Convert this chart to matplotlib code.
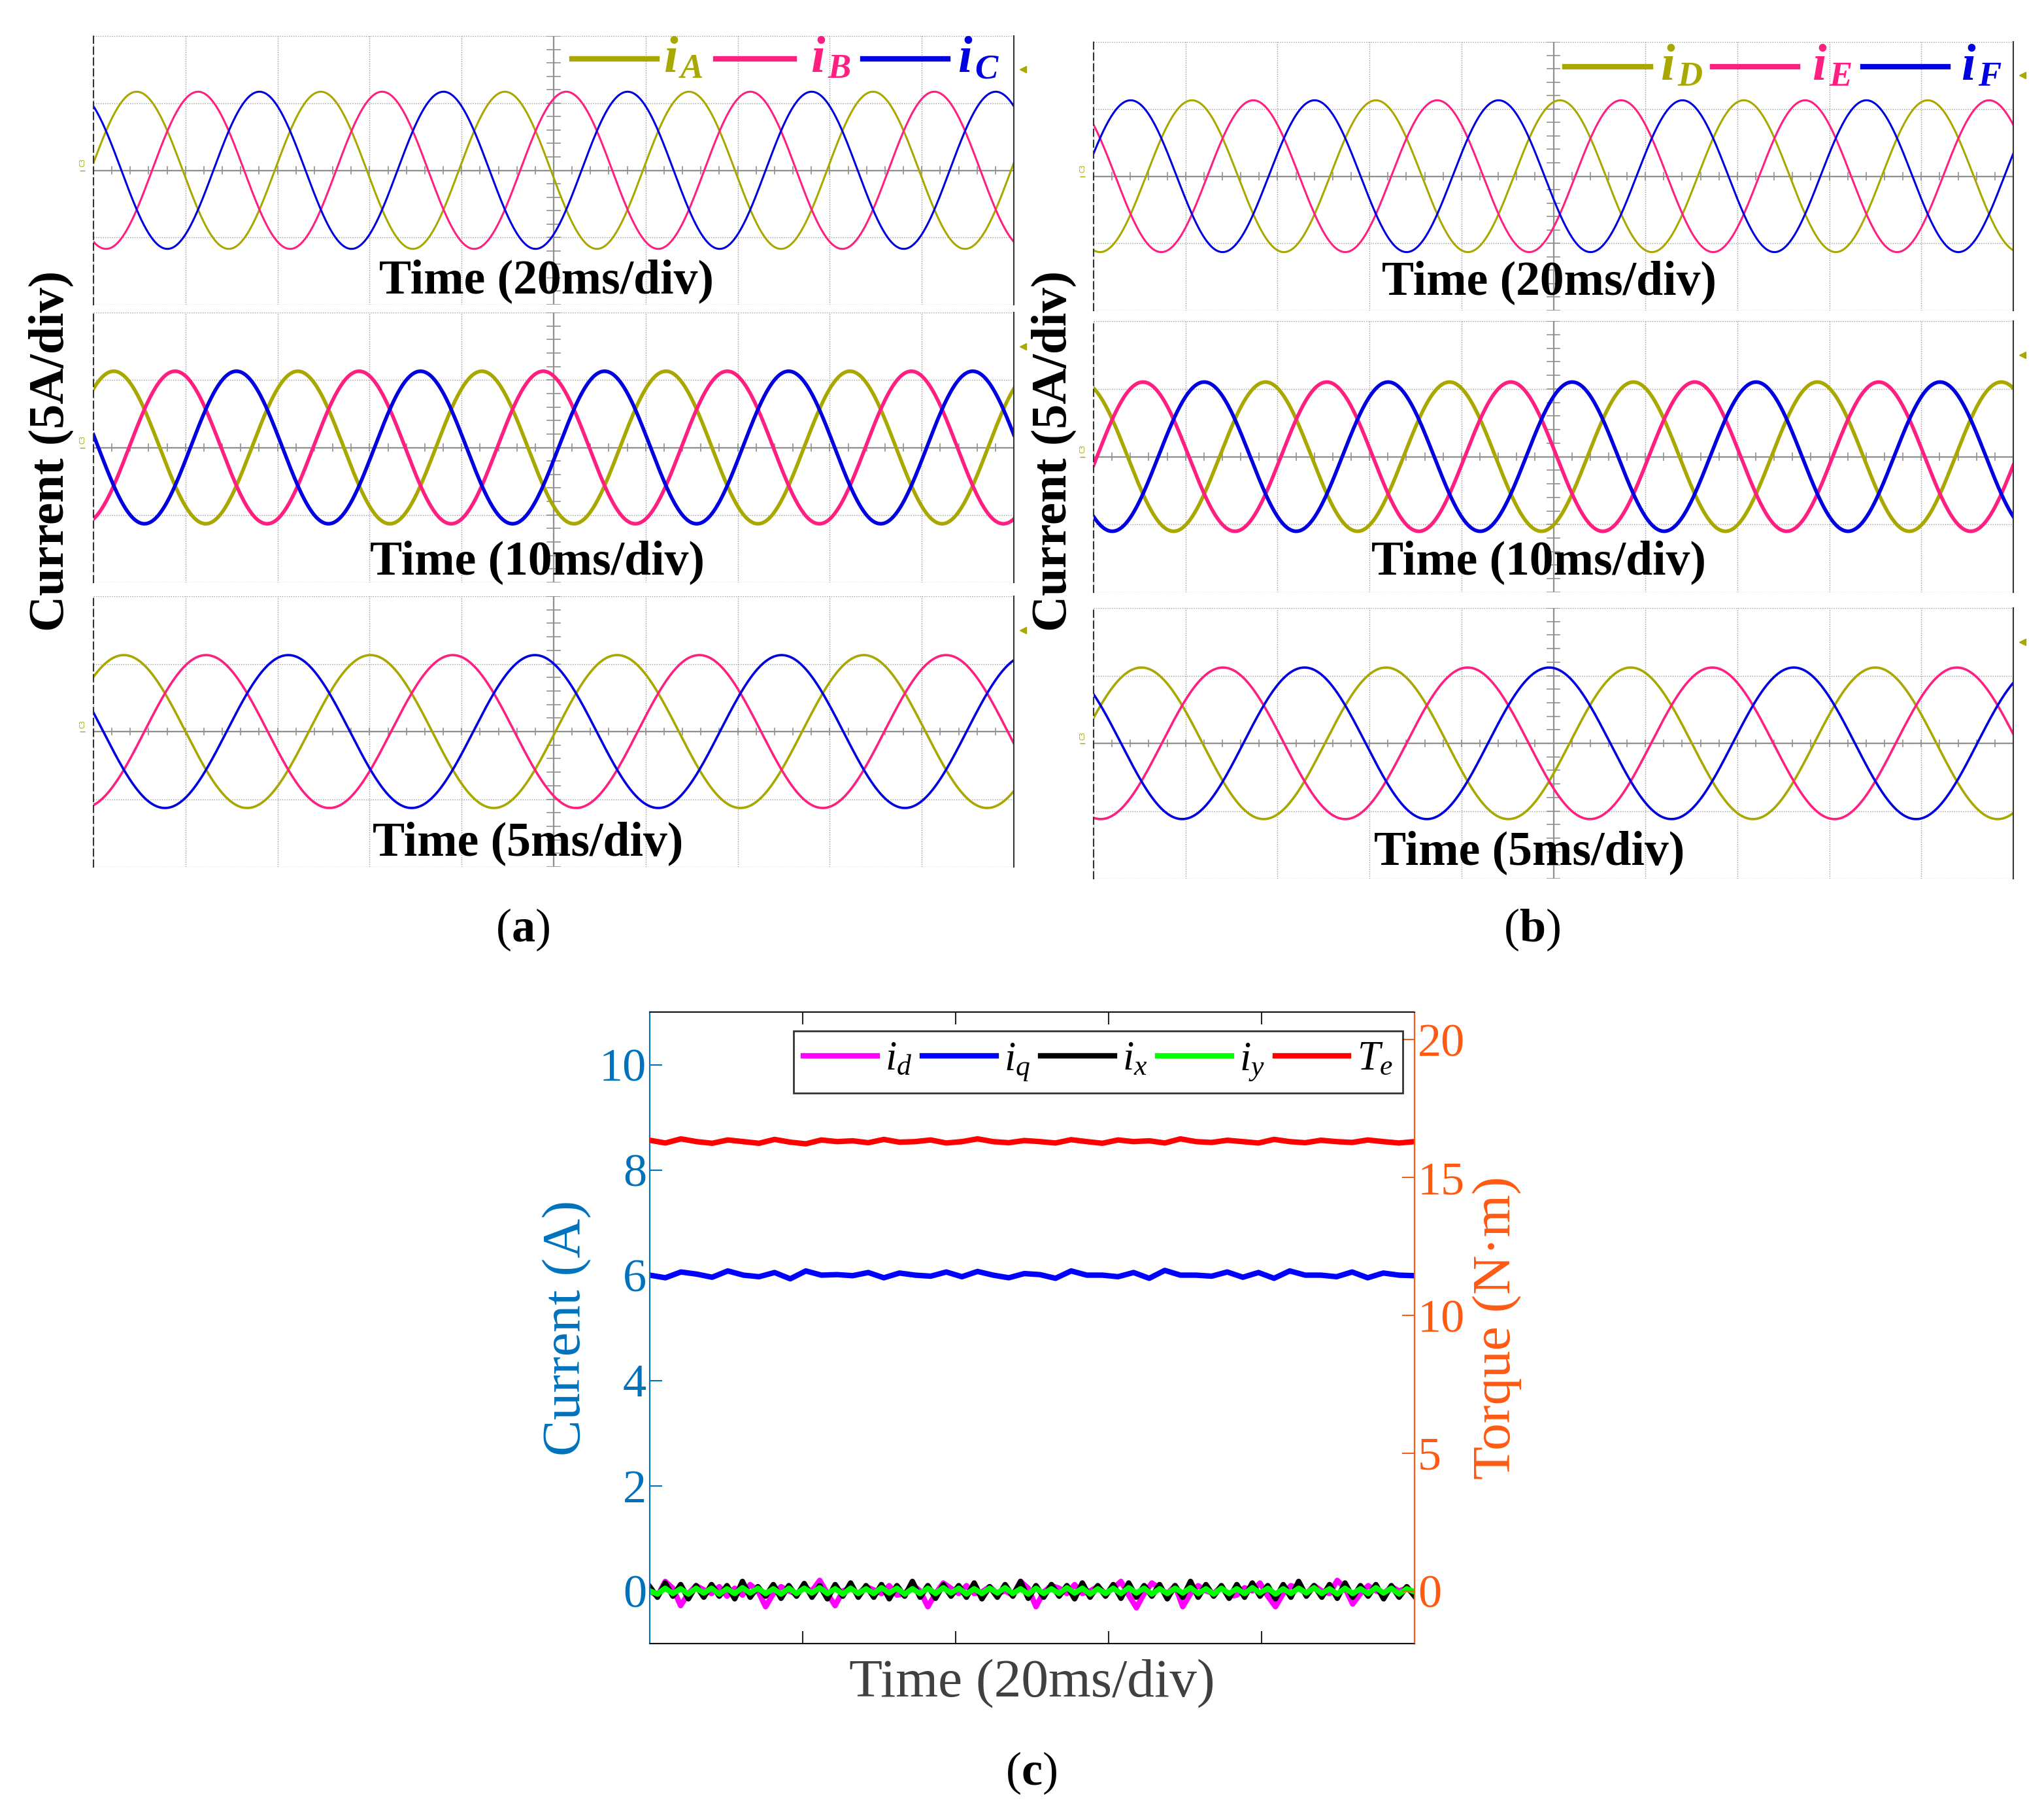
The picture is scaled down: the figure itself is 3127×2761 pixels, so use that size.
import numpy as np
import matplotlib
matplotlib.use("Agg")
import matplotlib.pyplot as plt
from matplotlib.lines import Line2D

plt.rcParams['font.family'] = ['Liberation Serif', 'DejaVu Serif']
plt.rcParams['mathtext.fontset'] = 'custom'
plt.rcParams['mathtext.rm'] = 'Liberation Serif'
plt.rcParams['mathtext.it'] = 'Liberation Serif:italic'
plt.rcParams['mathtext.bf'] = 'Liberation Serif:bold'

W, H = 3127, 2761
DPI = 100

# ---------------- data ----------------
# oscilloscope traces: (period [div], first peak of phase-1 [div], amplitude [div], line width)
panel_a_strips = [(2.00, 0.47, 1.17, 2.2), (2.00, 0.22, 1.13, 4.0), (2.68, 0.33, 1.13, 2.6)]
panel_b_strips = [(2.00, 1.07, 1.13, 2.2), (2.00, 1.87, 1.10, 4.0), (2.66, 0.52, 1.12, 2.6)]
strip_labels = ['Time (20ms/div)', 'Time (10ms/div)', 'Time (5ms/div)']
phase_lags = [0.0, 1/3, 2/3]           # fraction of a period
phase_colors = ['#A8A800', '#FF1F80', '#0000E0']
legend_a = ['A', 'B', 'C']
legend_b = ['D', 'E', 'F']

# panel (c) – time in ms, 0..100
t_c = np.linspace(0, 100, 50)
Te = [16.35, 16.25, 16.40, 16.30, 16.24, 16.36, 16.30, 16.24, 16.38, 16.28,
      16.22, 16.36, 16.30, 16.33, 16.26, 16.38, 16.28, 16.30, 16.36, 16.25,
      16.30, 16.40, 16.30, 16.26, 16.34, 16.30, 16.25, 16.37, 16.30, 16.24,
      16.36, 16.30, 16.33, 16.25, 16.40, 16.30, 16.27, 16.35, 16.30, 16.25,
      16.38, 16.30, 16.26, 16.35, 16.30, 16.27, 16.36, 16.30, 16.25, 16.30]
iq = [6.00, 5.95, 6.06, 6.02, 5.96, 6.08, 6.00, 5.97, 6.05, 5.93,
      6.08, 6.00, 6.01, 5.99, 6.05, 5.95, 6.04, 6.00, 5.98, 6.06,
      5.97, 6.07, 6.00, 5.95, 6.03, 6.01, 5.94, 6.08, 6.00, 6.00,
      5.97, 6.05, 5.94, 6.09, 6.00, 6.00, 5.98, 6.06, 5.96, 6.05,
      5.94, 6.08, 6.00, 6.00, 5.97, 6.06, 5.95, 6.04, 6.00, 5.99]
t_f = np.linspace(0, 100, 100)
i_d = [0.00, -0.10, 0.18, 0.05, -0.28, -0.05, 0.10, 0.02, -0.05, 0.08,
       -0.10, 0.05, -0.08, 0.12, 0.00, -0.30, -0.05, 0.08, 0.00, -0.06,
       0.06, 0.00, 0.20, -0.05, -0.28, 0.00, 0.05, -0.05, 0.08, 0.02,
       -0.05, 0.10, -0.08, -0.05, 0.12, 0.00, -0.30, -0.05, 0.15, 0.05,
       -0.05, 0.10, -0.05, -0.02, 0.08, -0.05, 0.00, -0.08, 0.18, 0.05,
       -0.30, -0.02, 0.10, 0.05, -0.05, 0.12, -0.05, 0.00, 0.08, -0.05,
       0.05, 0.18, -0.08, -0.32, -0.05, 0.15, 0.05, -0.05, 0.10, -0.30,
       -0.05, 0.10, 0.00, -0.05, 0.08, -0.10, -0.08, 0.06, 0.00, 0.15,
       -0.10, -0.30, -0.05, 0.10, 0.05, -0.05, 0.10, 0.00, -0.05, 0.20,
       0.05, -0.25, -0.05, 0.10, 0.00, -0.05, 0.08, 0.00, 0.05, -0.05]
i_x = [0.08, -0.12, 0.15, -0.10, 0.12, -0.15, 0.10, -0.12, 0.12, -0.10,
       0.10, -0.15, 0.18, -0.12, 0.08, -0.10, 0.12, -0.14, 0.10, -0.10,
       0.14, -0.12, 0.10, -0.15, 0.12, -0.10, 0.15, -0.12, 0.10, -0.12,
       0.12, -0.15, 0.10, -0.10, 0.18, -0.12, 0.10, -0.14, 0.12, -0.10,
       0.10, -0.12, 0.15, -0.15, 0.08, -0.12, 0.12, -0.10, 0.18, -0.14,
       0.10, -0.12, 0.12, -0.10, 0.10, -0.15, 0.15, -0.12, 0.10, -0.10,
       0.12, -0.14, 0.15, -0.12, 0.10, -0.10, 0.12, -0.15, 0.10, -0.12,
       0.18, -0.12, 0.12, -0.10, 0.10, -0.14, 0.12, -0.12, 0.15, -0.10,
       0.10, -0.15, 0.12, -0.12, 0.18, -0.10, 0.10, -0.12, 0.12, -0.14,
       0.15, -0.12, 0.10, -0.10, 0.12, -0.15, 0.10, -0.12, 0.08, -0.10]
i_y = [0.00, -0.06, 0.05, -0.05, 0.04, -0.06, 0.05, -0.04, 0.05, -0.06,
       0.04, -0.05, 0.06, -0.04, 0.05, -0.05, 0.04, -0.06, 0.05, -0.05,
       0.05, -0.04, 0.06, -0.05, 0.04, -0.06, 0.05, -0.05, 0.04, -0.05,
       0.06, -0.04, 0.05, -0.06, 0.04, -0.05, 0.05, -0.05, 0.06, -0.04,
       0.05, -0.06, 0.04, -0.05, 0.05, -0.04, 0.06, -0.05, 0.04, -0.06,
       0.05, -0.05, 0.04, -0.05, 0.06, -0.04, 0.05, -0.06, 0.04, -0.05,
       0.05, -0.05, 0.06, -0.04, 0.05, -0.06, 0.04, -0.05, 0.05, -0.04,
       0.06, -0.05, 0.04, -0.06, 0.05, -0.05, 0.04, -0.05, 0.06, -0.04,
       0.05, -0.06, 0.04, -0.05, 0.05, -0.04, 0.06, -0.05, 0.04, -0.06,
       0.05, -0.05, 0.04, -0.05, 0.06, -0.04, 0.05, -0.06, 0.04, -0.02]
c_left_ticks = [0, 2, 4, 6, 8, 10]
c_right_ticks = [0, 5, 10, 15, 20]
c_x_ticks = [20, 40, 60, 80]

# ---------------- figure ----------------
fig = plt.figure(figsize=(W / DPI, H / DPI), dpi=DPI)
fig.patch.set_facecolor('white')

def fx(px):
    return px / W

def fy(py):
    return 1 - py / H

def add_axes_px(x0, y0, x1, y1):
    return fig.add_axes([fx(x0), fy(y1), fx(x1) - fx(x0), (y1 - y0) / H])

def scope_strip(x0, y0, x1, y1, params, label, label_x, label_y):
    ax = add_axes_px(x0, y0, x1, y1)
    ax.set_xlim(0, 10)
    ax.set_ylim(-2, 2)
    for g in range(0, 11):
        ax.axvline(g, color='#9a9a9a', lw=1.0, ls=(0, (1, 1.5)), zorder=0)
    for g in range(-2, 3):
        ax.axhline(g, color='#9a9a9a', lw=1.0, ls=(0, (1, 1.5)), zorder=0)
    ax.axhline(0, color='#909090', lw=1.6, zorder=0.5)
    ax.axvline(5, color='#909090', lw=1.6, zorder=0.5)
    for v in np.arange(0, 10.01, 0.2):
        ax.plot([v, v], [-0.05, 0.05], color='#909090', lw=1.2, zorder=0.5)
    for v in np.arange(-2, 2.01, 0.2):
        ax.plot([4.93, 5.07], [v, v], color='#909090', lw=1.2, zorder=0.5)
    period, peak, amp, lw = params
    t = np.linspace(0, 10, 3000)
    for lag, col in zip(phase_lags, phase_colors):
        y = amp * np.cos(2 * np.pi * (t - peak - lag * period) / period)
        ax.plot(t, y, color=col, lw=lw, zorder=2)
    for s in ['top', 'bottom']:
        ax.spines[s].set_visible(False)
    ax.spines['left'].set_linestyle((0, (5, 3)))
    ax.spines['left'].set_color('#333333')
    ax.spines['left'].set_linewidth(1.5)
    ax.spines['right'].set_color('#333333')
    ax.spines['right'].set_linewidth(1.5)
    ax.set_xticks([])
    ax.set_yticks([])
    ax.text(-0.12, 0.05, 'C3', rotation=90, fontsize=7, color='#A8A800',
            ha='center', va='bottom', family='DejaVu Sans')
    ax.plot([-0.12], [0.0], marker='_', color='#A8A800', ms=6, clip_on=False)
    ax.plot([10.1], [1.5], marker='<', color='#A8A800', ms=7, clip_on=False)
    fig.text(fx(label_x), fy(label_y), label, fontsize=53, weight='bold',
             ha='center', va='center', zorder=5)
    return ax

a_x = (143, 1551)
a_y = [(55, 466), (478, 891), (912, 1326)]
a_lab = [(836, 430), (822, 860), (808, 1290)]
b_x = (1673, 3080)
b_y = [(64, 475), (491, 906), (930, 1344)]
b_lab = [(2370, 432), (2354, 860), (2340, 1304)]

for i in range(3):
    scope_strip(a_x[0], a_y[i][0], a_x[1], a_y[i][1], panel_a_strips[i], strip_labels[i], *a_lab[i])
    scope_strip(b_x[0], b_y[i][0], b_x[1], b_y[i][1], panel_b_strips[i], strip_labels[i], *b_lab[i])

fig.text(fx(78), fy(690), 'Current (5A/div)', rotation=90, fontsize=55, weight='bold',
         ha='center', va='center')
fig.text(fx(1612), fy(690), 'Current (5A/div)', rotation=90, fontsize=55, weight='bold',
         ha='center', va='center')

def scope_legend(entries, lines_x, text_x, ypx):
    for (lx0, lx1), tx, name, col in zip(lines_x, text_x, entries, phase_colors):
        fig.add_artist(Line2D([fx(lx0), fx(lx1)], [fy(ypx), fy(ypx)], color=col, lw=6,
                              transform=fig.transFigure))
        fig.text(fx(tx), fy(ypx), 'i', fontsize=56, weight='bold', style='italic',
                 color=col, ha='left', va='center')
        fig.text(fx(tx + 26), fy(ypx + 16), name, fontsize=38, weight='bold', style='italic',
                 color=col, ha='left', va='center')

scope_legend(legend_a, [(875, 1005), (1095, 1215), (1320, 1450)], [1015, 1240, 1465], 90)
scope_legend(legend_b, [(2394, 2525), (2620, 2750), (2850, 2980)], [2540, 2772, 3000], 102)

fig.text(fx(800), fy(1422), r'($\mathbf{a}$)', fontsize=52, ha='center', va='center')
fig.text(fx(2344), fy(1422), r'($\mathbf{b}$)', fontsize=52, ha='center', va='center')
fig.text(fx(1578), fy(2712), r'($\mathbf{c}$)', fontsize=52, ha='center', va='center')

# ---------------- panel (c) ----------------
left_col = '#0072BD'
right_col = '#FF5A14'
LW = 6
axc = add_axes_px(994, 1548, 2164, 2514)
axc.set_xlim(0, 100)
axc.set_ylim(-1, 11)
l1, = axc.plot(t_f, i_d, color='#FF00FF', lw=LW, label=r'$i_d$')
l2, = axc.plot(t_c, iq, color='#0000FF', lw=LW, label=r'$i_q$')
l3, = axc.plot(t_f, i_x, color='#000000', lw=LW, label=r'$i_x$')
l4, = axc.plot(t_f, i_y, color='#00FF00', lw=LW, label=r'$i_y$')
axc.set_yticks(c_left_ticks)
axc.set_xticks(c_x_ticks)
axc.set_xticklabels([])
axc.tick_params(axis='y', colors=left_col, labelsize=52, direction='in', length=14, width=1.5)
axc.tick_params(axis='x', direction='in', length=14, width=1.5, top=True, colors='#262626')
axc.set_ylabel('Current (A)', fontsize=60, color=left_col, labelpad=8)
axc.set_xlabel('Time (20ms/div)', fontsize=60, color='#404040', labelpad=14)
axc.spines['left'].set_color(left_col)
axc.spines['top'].set_color('#262626')
axc.spines['bottom'].set_color('#262626')
for s in axc.spines.values():
    s.set_linewidth(1.5)

axr = axc.twinx()
axr.set_ylim(-1.9, 21.0)
l5, = axr.plot(t_c, Te, color='#FF0000', lw=LW, label=r'$T_e$')
axr.set_yticks(c_right_ticks)
axr.tick_params(axis='y', colors=right_col, labelsize=52, direction='in', length=14, width=1.5)
axr.set_ylabel('Torque (N·m)', fontsize=60, color=right_col, labelpad=8)
axr.spines['right'].set_color(right_col)
axr.spines['right'].set_linewidth(1.5)
axr.spines['left'].set_visible(False)

leg = axr.legend(handles=[l1, l2, l3, l4, l5], ncol=5, loc='upper right',
                 bbox_to_anchor=(0.985, 0.97), fontsize=45, frameon=True, fancybox=False,
                 edgecolor='black', handlelength=1.8, handletextpad=0.2, columnspacing=0.25,
                 borderpad=0.25, borderaxespad=0.0)
leg.get_frame().set_linewidth(2)

fig.savefig('out.png', dpi=DPI, facecolor='white')
